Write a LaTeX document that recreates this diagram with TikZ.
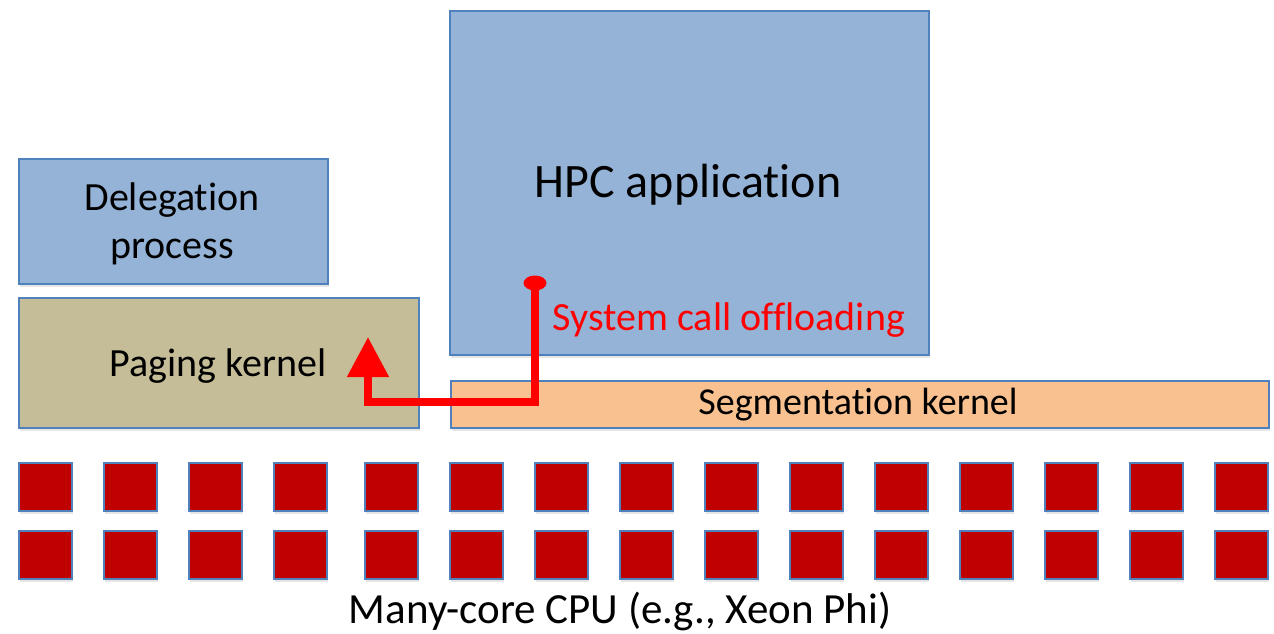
\documentclass[tikz,border=0pt]{standalone}
\usepackage{fontspec}
\setmainfont{Carlito}[Ligatures=NoCommon]
\usetikzlibrary{arrows.meta,shadows}
\definecolor{boxblue}{HTML}{95B3D7}
\definecolor{edgeblue}{HTML}{4F81BD}
\definecolor{tan}{HTML}{C4BD97}
\definecolor{peach}{HTML}{F9C090}
\definecolor{corered}{HTML}{C00000}
\tikzset{
  layer/.style={draw=edgeblue, line width=1.5pt, anchor=north west, inner sep=0pt,
    drop shadow={opacity=0.2, shadow xshift=1.5pt, shadow yshift=-3pt}},
  core/.style={layer, fill=corered, minimum width=53pt, minimum height=48pt},
  offload/.style={draw=red, line width=8pt, line join=miter},
}
\begin{document}
\begin{tikzpicture}[x=1pt,y=-1pt]
  \useasboundingbox (0,0) rectangle (1274,633);
  % software layers
  \node[layer, fill=boxblue, minimum width=309pt, minimum height=125pt] (deleg) at (18,158) {};
  \node[font=\fontsize{40}{48}\selectfont, align=center] at (172,224) {Delegation\\process};
  \node[layer, fill=tan, minimum width=400pt, minimum height=130pt] (paging) at (18,297) {};
  \node[font=\fontsize{40}{48}\selectfont] at (218,366) {Paging kernel};
  \node[layer, fill=boxblue, minimum width=479pt, minimum height=344pt] (hpc) at (449,10) {};
  \node[font=\fontsize{48}{57}\selectfont] at (688,185) {HPC application};
  \node[layer, fill=peach, minimum width=818pt, minimum height=47pt] (seg) at (450,380) {};
  \node[font=\fontsize{38}{45}\selectfont] at (858,405) {Segmentation kernel};
  % cores of the many-core CPU
  \foreach \i/\x in {1/18,2/103,3/188,4/273}{
    \node[core] (a\i) at (\x,462) {};
    \node[core] (b\i) at (\x,530) {};
  }
  \foreach \k in {0,...,10}{
    \pgfmathtruncatemacro{\i}{\k+5}
    \node[core] (a\i) at (364+85*\k,462) {};
    \node[core] (b\i) at (364+85*\k,530) {};
  }
  \node[font=\fontsize{43}{51}\selectfont] (cpu) at (620,611) {Many-core CPU (e.g., Xeon Phi)};
  % system call offloading path
  \coordinate (src) at (535,283);
  \coordinate (turn) at (368,402);
  \coordinate (dst) at (368,337);
  \draw[offload, -{Triangle[width=40pt,length=40pt]}] (src) |- (turn) -- (dst);
  \fill[red] (src) ellipse (11.5 and 7.5);
  \node[text=red, font=\fontsize{40}{48}\selectfont, anchor=west] at (549,320) {System call offloading};
\end{tikzpicture}
\end{document}
